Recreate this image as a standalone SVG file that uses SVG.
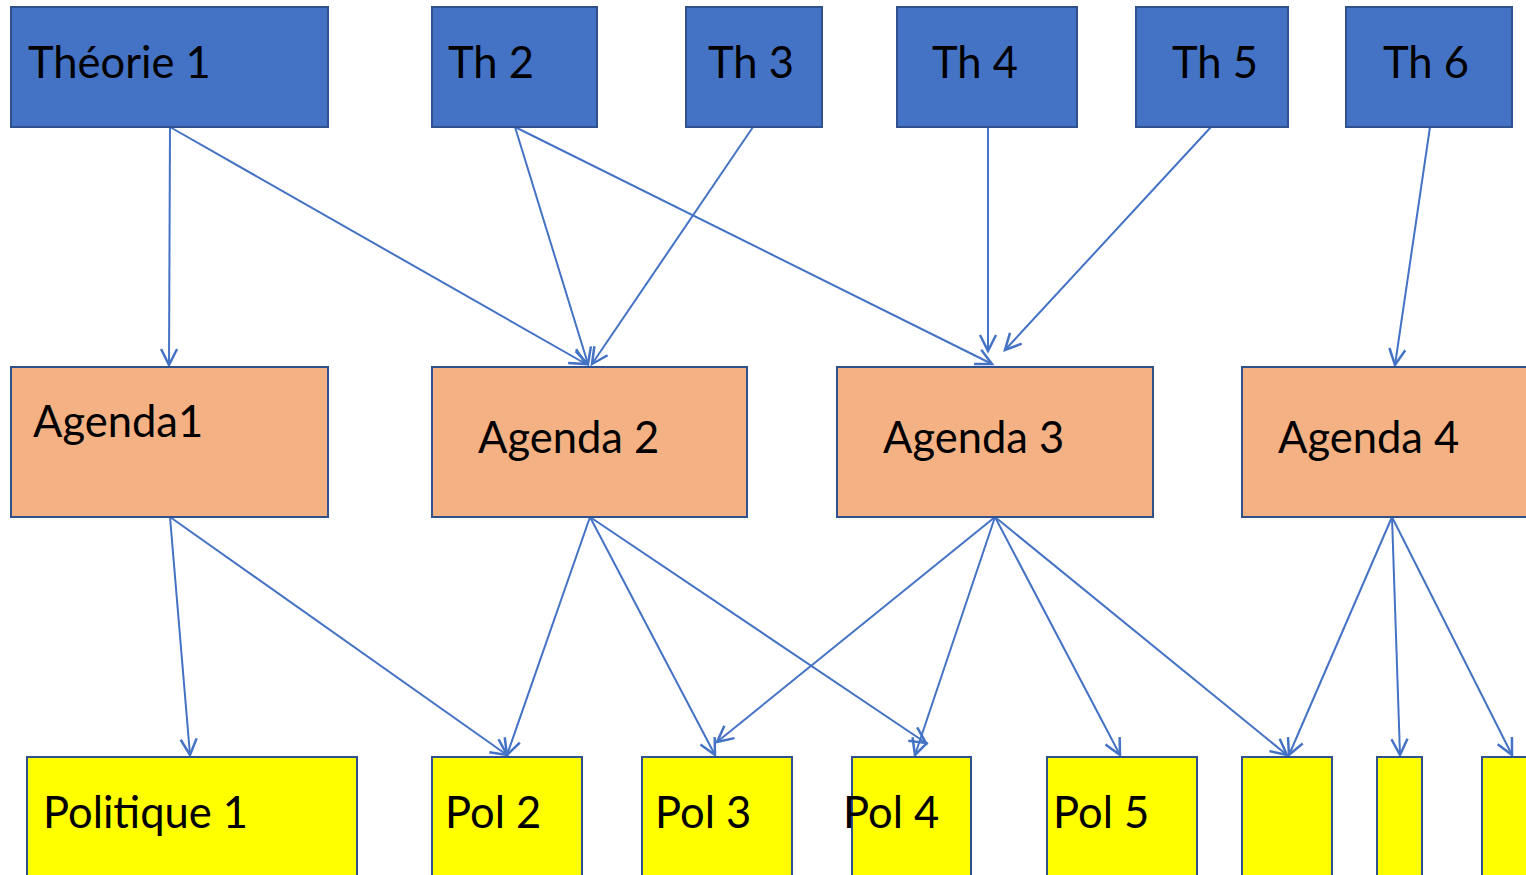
<svg xmlns="http://www.w3.org/2000/svg" width="1526" height="875" viewBox="0 0 1526 875">
<style>
.th{fill:#4472C4;stroke:#2F528F;stroke-width:2}
.ag{fill:#F4B183;stroke:#2F528F;stroke-width:2}
.po{fill:#FFFF00;stroke:#2F528F;stroke-width:2}
.t{font-family:Lato,"Open Sans",sans-serif;font-size:43.5px;fill:#000}
.c line{stroke:#4472C4;stroke-width:2;fill:none;marker-end:url(#a)}
</style>
<defs>
<marker id="a" markerUnits="userSpaceOnUse" markerWidth="22" markerHeight="22" viewBox="0 0 22 22" refX="19" refY="11" orient="auto">
<path d="M3,3 L19,11 L3,19" fill="none" stroke="#4472C4" stroke-width="2.5"/>
</marker>
</defs>
<rect width="1526" height="875" fill="#fff"/>
<g class="c">
<line x1="170" y1="127" x2="169" y2="365"/>
<line x1="170" y1="127" x2="586" y2="364"/>
<line x1="515" y1="127" x2="588" y2="364"/>
<line x1="753" y1="127" x2="592" y2="364"/>
<line x1="515" y1="127" x2="992" y2="364"/>
<line x1="988" y1="127" x2="988" y2="351"/>
<line x1="1211" y1="127" x2="1005" y2="350"/>
<line x1="1430" y1="127" x2="1395" y2="365"/>
<line x1="170" y1="517" x2="190" y2="755"/>
<line x1="170" y1="517" x2="507" y2="755"/>
<line x1="590" y1="517" x2="507" y2="755"/>
<line x1="590" y1="517" x2="715" y2="755"/>
<line x1="590" y1="517" x2="926" y2="743"/>
<line x1="995" y1="517" x2="717" y2="742"/>
<line x1="995" y1="517" x2="915" y2="755"/>
<line x1="995" y1="517" x2="1120" y2="755"/>
<line x1="995" y1="517" x2="1287" y2="755"/>
<line x1="1392" y1="517" x2="1289" y2="755"/>
<line x1="1392" y1="517" x2="1400" y2="755"/>
<line x1="1392" y1="517" x2="1512" y2="755"/>
</g>
<g id="th1"><rect class="th" x="11" y="7" width="317" height="120"/><text class="t" x="28" y="78">Théorie 1</text></g>
<g id="th2"><rect class="th" x="432" y="7" width="165" height="120"/><text class="t" x="448" y="78">Th 2</text></g>
<g id="th3"><rect class="th" x="686" y="7" width="136" height="120"/><text class="t" x="708" y="78">Th 3</text></g>
<g id="th4"><rect class="th" x="897" y="7" width="180" height="120"/><text class="t" x="932" y="78">Th 4</text></g>
<g id="th5"><rect class="th" x="1136" y="7" width="152" height="120"/><text class="t" x="1172" y="78">Th 5</text></g>
<g id="th6"><rect class="th" x="1346" y="7" width="166" height="120"/><text class="t" x="1383" y="78">Th 6</text></g>
<g id="ag1"><rect class="ag" x="11" y="367" width="317" height="150"/><text class="t" x="33" y="437">Agenda1</text></g>
<g id="ag2"><rect class="ag" x="432" y="367" width="315" height="150"/><text class="t" x="478" y="453">Agenda 2</text></g>
<g id="ag3"><rect class="ag" x="837" y="367" width="316" height="150"/><text class="t" x="883" y="453">Agenda 3</text></g>
<g id="ag4"><rect class="ag" x="1242" y="367" width="300" height="150"/><text class="t" x="1278" y="453">Agenda 4</text></g>
<g id="p1"><rect class="po" x="27" y="757" width="330" height="130"/><text class="t" x="43" y="828">Politique 1</text></g>
<g id="p2"><rect class="po" x="432" y="757" width="150" height="130"/><text class="t" x="445" y="828">Pol 2</text></g>
<g id="p3"><rect class="po" x="642" y="757" width="150" height="130"/><text class="t" x="655" y="828">Pol 3</text></g>
<g id="p4"><rect class="po" x="852" y="757" width="119" height="130"/><text class="t" x="843" y="828">Pol 4</text></g>
<g id="p5"><rect class="po" x="1047" y="757" width="150" height="130"/><text class="t" x="1053" y="828">Pol 5</text></g>
<g id="p6"><rect class="po" x="1242" y="757" width="90" height="130"/></g>
<g id="p7"><rect class="po" x="1377" y="757" width="45" height="130"/></g>
<g id="p8"><rect class="po" x="1482" y="757" width="60" height="130"/></g>
</svg>
